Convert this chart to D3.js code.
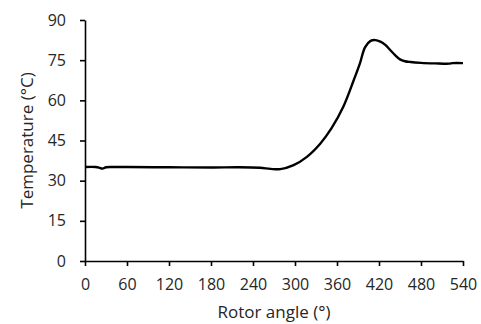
<!DOCTYPE html>
<html>
<head>
<meta charset="utf-8">
<script src="https://cdn.jsdelivr.net/npm/d3@7"></script>
<style>
  body { margin: 0; background: #fff; }
  text { font-family: "Open Sans", "Noto Sans", sans-serif; fill: #262626; }
</style>
</head>
<body>
<div id="chart"></div>
<script>
// rotor angle (deg) and temperature (°C)
var angles = [0, 15, 20, 25, 30, 40, 60, 120, 180, 220, 250, 265, 279, 298, 317, 336, 352, 369, 384, 393, 400, 408, 415, 422, 429, 436, 443, 450, 457, 465, 480, 500, 520, 525, 540];
var temps  = [35.1, 35.1, 34.9, 34.5, 35.0, 35.1, 35.1, 35.0, 34.9, 35.0, 34.8, 34.4, 34.3, 35.8, 38.9, 43.8, 49.5, 57.6, 67.6, 74.0, 79.8, 82.2, 82.5, 81.9, 80.7, 78.8, 76.9, 75.3, 74.6, 74.3, 74.0, 73.8, 73.7, 73.9, 73.9];
var xTicks = [0, 60, 120, 180, 240, 300, 360, 420, 480, 540];
var yTicks = [0, 15, 30, 45, 60, 75, 90];

var W = 481, H = 324;
var margin = {top: 20, right: 18, bottom: 63, left: 85},
    width = W - margin.left - margin.right,
    height = H - margin.top - margin.bottom;

var data = angles.map(function(a, i) { return {step: a, val: temps[i]}; });

var x = d3.scaleLinear().domain([0, 540]).range([0, width]);
var y = d3.scaleLinear().domain([0, 90]).range([height, 0]);

var svg = d3.select("#chart").append("svg")
    .attr("width", W)
    .attr("height", H)
  .append("g")
    .attr("transform", "translate(" + margin.left + "," + margin.top + ")");

var xAxis = svg.append("g")
    .attr("transform", "translate(0," + height + ")")
    .call(d3.axisBottom(x).tickValues(xTicks).tickSize(5).tickPadding(13).tickSizeOuter(0));

var yAxis = svg.append("g")
    .call(d3.axisLeft(y).tickValues(yTicks).tickSize(5).tickPadding(14).tickSizeOuter(0));

[xAxis, yAxis].forEach(function(ax) {
  ax.select(".domain").attr("stroke", "#000").attr("stroke-width", 1.6);
  ax.selectAll(".tick line").attr("stroke", "#000").attr("stroke-width", 1.6);
  ax.selectAll(".tick text").attr("font-size", 16).attr("fill", "#262626")
    .style("font-family", "'Open Sans', sans-serif");
});

var line = d3.line()
    .x(function(d) { return x(d.step); })
    .y(function(d) { return y(d.val); })
    .curve(d3.curveCatmullRom.alpha(0.5));

svg.append("path")
    .datum(data)
    .attr("fill", "none")
    .attr("stroke", "#000")
    .attr("stroke-width", 2.4)
    .attr("d", line);

svg.append("text")
    .attr("x", width / 2)
    .attr("y", height + 57)
    .attr("text-anchor", "middle")
    .attr("font-size", 17)
    .text("Rotor angle (°)");

svg.append("text")
    .attr("transform", "rotate(-90)")
    .attr("x", -height / 2)
    .attr("y", -margin.left + 33)
    .attr("text-anchor", "middle")
    .attr("font-size", 17)
    .text("Temperature (°C)");
</script>
</body>
</html>
